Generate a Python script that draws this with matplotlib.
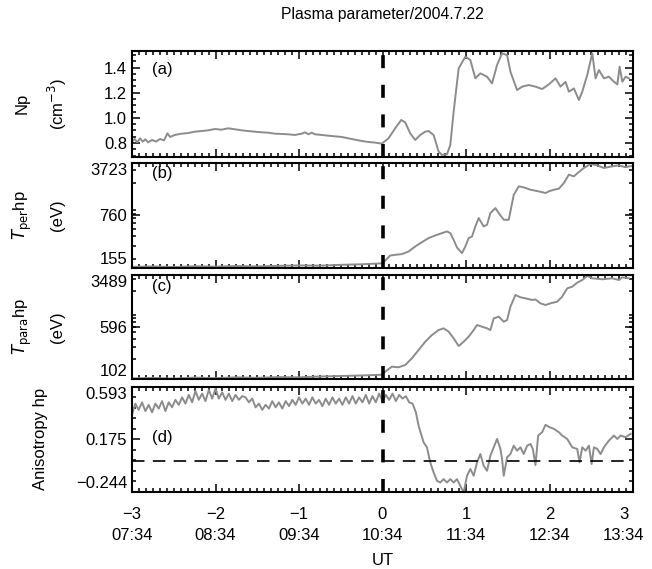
import numpy as np
import matplotlib
matplotlib.use("Agg")
import matplotlib.pyplot as plt
from matplotlib.transforms import ScaledTranslation
from matplotlib.ticker import (FixedLocator, MultipleLocator, AutoMinorLocator,
                               LogLocator, NullFormatter)

plt.rcParams['font.family'] = ['Liberation Sans', 'DejaVu Sans']

# ---------------- data ----------------
title = "Plasma parameter/2004.7.22"
xticks = [-3, -2, -1, 0, 1, 2, 3]
xticklabels = ["\u22123\n07:34", "\u22122\n08:34", "\u22121\n09:34", "0\n10:34",
               "1\n11:34", "2\n12:34", "3\n13:34"]

# (a) proton density
t_np = [-3.0, -2.968, -2.936, -2.904, -2.872, -2.84, -2.808, -2.76, -2.712, -2.664,
        -2.616, -2.576, -2.544, -2.488, -2.408, -2.328, -2.248, -2.168, -2.088, -2.008,
        -1.928, -1.848, -1.768, -1.688, -1.608, -1.528, -1.448, -1.368, -1.288, -1.208,
        -1.128, -1.048, -0.968, -0.928, -0.888, -0.848, -0.808, -0.728, -0.648, -0.568,
        -0.488, -0.408, -0.328, -0.248, -0.168, -0.088, -0.008,
        0.072, 0.152, 0.224, 0.272, 0.332, 0.392, 0.452, 0.512, 0.552, 0.612,
        0.672, 0.712, 0.772, 0.812, 0.852, 0.912, 0.992, 1.052, 1.112, 1.172,
        1.252, 1.312, 1.372, 1.432, 1.492, 1.532, 1.612, 1.672, 1.752, 1.832,
        1.912, 1.992, 2.072, 2.132, 2.192, 2.232, 2.292, 2.352, 2.392, 2.452,
        2.512, 2.552, 2.592, 2.652, 2.712, 2.772, 2.812, 2.840, 2.872, 2.912, 2.952]
v_np = [0.811, 0.832, 0.805, 0.837, 0.811, 0.829, 0.805, 0.824, 0.811, 0.832,
        0.821, 0.877, 0.848, 0.864, 0.874, 0.879, 0.890, 0.895, 0.901, 0.911,
        0.906, 0.917, 0.909, 0.901, 0.895, 0.890, 0.885, 0.882, 0.874, 0.872,
        0.869, 0.864, 0.874, 0.885, 0.869, 0.882, 0.869, 0.864, 0.858, 0.853,
        0.848, 0.837, 0.826, 0.816, 0.808, 0.803, 0.795,
        0.837, 0.917, 0.983, 0.964, 0.877, 0.824, 0.864, 0.890, 0.895, 0.864,
        0.731, 0.705, 0.710, 0.784, 1.049, 1.393, 1.486, 1.460, 1.314, 1.354,
        1.327, 1.274, 1.420, 1.513, 1.499, 1.367, 1.221, 1.248, 1.261, 1.248,
        1.229, 1.266, 1.314, 1.248, 1.287, 1.208, 1.234, 1.142, 1.208, 1.340,
        1.513, 1.314, 1.380, 1.314, 1.327, 1.287, 1.266, 1.407, 1.287, 1.327, 1.314]

# (b) perpendicular temperature (eV)
t_tper = [-3.0, -2.75, -2.5, -2.25, -2.0, -1.75, -1.5, -1.25, -1.0, -0.75, -0.5, -0.25, 0.0,
          0.092, 0.152, 0.232, 0.312, 0.392, 0.472, 0.552, 0.632, 0.712, 0.772, 0.812,
          0.852, 0.892, 0.952, 0.992, 1.032, 1.072, 1.112, 1.152, 1.212, 1.252, 1.292,
          1.352, 1.392, 1.452, 1.512, 1.572, 1.632, 1.692, 1.772, 1.872, 1.952, 1.992,
          2.052, 2.112, 2.172, 2.232, 2.292, 2.352, 2.412, 2.492, 2.572, 2.652, 2.752,
          2.832, 2.912, 2.952, 3.0]
v_tper = [158, 160, 157, 161, 159, 162, 160, 163, 165, 164, 168, 171, 176,
          223, 228, 233, 252, 294, 335, 379, 411, 441, 464, 441,
          360, 285, 240, 294, 379, 398, 540, 697, 540, 569, 811,
          945, 811, 662, 662, 1418, 1829, 1773, 1651, 1570, 1493, 1570,
          1651, 1703, 2023, 2610, 2480, 2833, 3200, 3612, 3470, 3200, 3365,
          3470, 3267, 3365, 3400]

# (c) parallel temperature (eV)
t_tpar = [-3.0, -2.75, -2.5, -2.25, -2.0, -1.75, -1.5, -1.25, -1.0, -0.75, -0.5, -0.25, 0.0,
          0.032, 0.112, 0.192, 0.272, 0.352, 0.432, 0.512, 0.592, 0.672, 0.732, 0.792,
          0.852, 0.912, 0.972, 1.032, 1.092, 1.132, 1.192, 1.252, 1.292, 1.332, 1.392,
          1.452, 1.492, 1.532, 1.592, 1.652, 1.712, 1.792, 1.832, 1.892, 1.952, 2.012,
          2.092, 2.152, 2.212, 2.272, 2.332, 2.392, 2.452, 2.512, 2.632, 2.752, 2.832,
          2.872, 2.952]
v_tpar = [104, 106, 103, 107, 105, 108, 106, 109, 108, 111, 113, 115, 118,
          131, 155, 152, 164, 206, 273, 362, 454, 538, 570, 509,
          406, 313, 362, 430, 538, 638, 603, 570, 538, 800, 847,
          714, 756, 1190, 1770, 1635, 1580, 1493, 1520, 1333, 1260, 1333,
          1410, 1672, 2218, 2346, 2690, 2944, 3374, 3120, 3015, 3120, 2944,
          3220, 3120]

# (d) anisotropy
t_an = [-3.00, -2.96, -2.92, -2.88, -2.84, -2.80, -2.76, -2.72, -2.68, -2.64,
        -2.60, -2.56, -2.52, -2.48, -2.44, -2.40, -2.36, -2.32, -2.28, -2.24,
        -2.20, -2.16, -2.12, -2.08, -2.04, -2.00, -1.96, -1.92, -1.88, -1.84,
        -1.80, -1.76, -1.72, -1.68, -1.64, -1.60, -1.56, -1.52, -1.48, -1.44,
        -1.40, -1.36, -1.32, -1.28, -1.24, -1.20, -1.16, -1.12, -1.08, -1.04,
        -1.00, -0.96, -0.92, -0.88, -0.84, -0.80, -0.76, -0.72, -0.68, -0.64,
        -0.60, -0.56, -0.52, -0.48, -0.44, -0.40, -0.36, -0.32, -0.28, -0.24,
        -0.20, -0.16, -0.12, -0.08, -0.04, 0.00, 0.04, 0.08, 0.12, 0.16,
        0.20, 0.24, 0.28, 0.32, 0.36, 0.40,
        0.432, 0.492, 0.532, 0.572, 0.612, 0.652, 0.692, 0.732, 0.772, 0.812,
        0.852, 0.892, 0.932, 0.972, 1.012, 1.052, 1.092, 1.132, 1.172, 1.212,
        1.252, 1.292, 1.332, 1.372, 1.412, 1.432, 1.452, 1.492, 1.532, 1.572,
        1.612, 1.652, 1.692, 1.732, 1.772, 1.800, 1.832, 1.864, 1.912, 1.952,
        2.000, 2.052, 2.112, 2.152, 2.212, 2.272, 2.332, 2.360, 2.392, 2.432,
        2.472, 2.504, 2.532, 2.572, 2.612, 2.652, 2.712, 2.772, 2.812, 2.852,
        2.912, 2.972]
v_an = [0.37, 0.46, 0.41, 0.47, 0.40, 0.45, 0.39, 0.46, 0.42, 0.48,
        0.40, 0.47, 0.43, 0.49, 0.45, 0.51, 0.46, 0.53, 0.47, 0.56,
        0.49, 0.54, 0.48, 0.57, 0.50, 0.58, 0.50, 0.55, 0.49, 0.54,
        0.48, 0.53, 0.49, 0.52, 0.51, 0.47, 0.50, 0.43, 0.46, 0.41,
        0.45, 0.42, 0.48, 0.43, 0.47, 0.42, 0.48, 0.44, 0.49, 0.45,
        0.51, 0.46, 0.50, 0.45, 0.51, 0.46, 0.49, 0.44, 0.50, 0.45,
        0.51, 0.46, 0.50, 0.45, 0.51, 0.46, 0.52, 0.46, 0.51, 0.47,
        0.53, 0.46, 0.52, 0.47, 0.54, 0.48, 0.53, 0.49, 0.54, 0.48,
        0.53, 0.50, 0.52, 0.47, 0.46, 0.39,
        0.284, 0.150, 0.110, -0.011, -0.091, -0.158, -0.172, -0.145, -0.172, -0.145,
        -0.172, -0.145, -0.198, -0.252, -0.118, -0.064, -0.118, -0.011, 0.056, -0.038,
        -0.078, 0.043, 0.110, 0.177, 0.097, 0.016, -0.118, 0.030, 0.056, 0.123,
        0.083, 0.110, 0.056, 0.123, 0.137, 0.097, -0.032, 0.204, 0.231, 0.290,
        0.271, 0.258, 0.231, 0.204, 0.177, 0.110, 0.097, -0.011, 0.110, 0.083,
        0.123, -0.024, 0.110, 0.097, 0.056, 0.110, 0.164, 0.204, 0.177, 0.204,
        0.191, 0.217]

yt_np = [0.8, 1.0, 1.2, 1.4]
yt_tper = [155, 760, 3723]
yt_tpar = [102, 596, 3489]
yt_an = [-0.244, 0.175, 0.593]
an_ref = 0.0
onset = 0.0

# ---------------- figure ----------------
W, H = 652, 569
fig = plt.figure(figsize=(W / 100, H / 100), dpi=100)
left, width = 132 / W, 501 / W
panels = [(50.7, 156.7), (163.0, 267.5), (275.0, 379.0), (387.0, 491.5)]
axes = []
for top, bot in panels:
    axes.append(fig.add_axes([left, 1 - bot / H, width, (bot - top) / H]))

gray = '#8c8c8c'
fs = 12

for ax in axes:
    ax.set_xlim(-3, 3)
    ax.xaxis.set_major_locator(FixedLocator(xticks))
    ax.xaxis.set_minor_locator(MultipleLocator(1 / 12))
    ax.tick_params(axis='both', which='both', direction='in', top=True, right=True,
                   labelsize=fs, width=1.1)
    ax.tick_params(which='major', length=6)
    ax.tick_params(which='minor', length=3)
    for s in ax.spines.values():
        s.set_linewidth(1.5)
    ax.axvline(onset, color='black', lw=2.6, dashes=(3.6, 4.6), zorder=3)
    if ax is not axes[-1]:
        ax.tick_params(labelbottom=False)

# (a)
ax = axes[0]
ax.plot(t_np, v_np, color=gray, lw=1.4)
ax.set_ylim(0.691, 1.534)
ax.set_yticks(yt_np, [f"{v:.1f}" for v in yt_np])
ax.yaxis.set_minor_locator(MultipleLocator(0.05))
ax.text(0.06, 0.82, "(a)", transform=ax.transAxes, fontsize=fs, ha='center', va='center')
ax.text(-0.2196, 0.5, "Np", transform=ax.transAxes, fontsize=fs, rotation=90,
        ha='center', va='center')
ax.text(-0.1497, 0.5, "(cm$^{-3}$)", transform=ax.transAxes, fontsize=fs, rotation=90,
        ha='center', va='center')
ax.text(0.5, 1 + (50.7 - 15) / 106, title, transform=ax.transAxes, fontsize=11.3,
        ha='center', va='center')

# (b)
ax = axes[1]
ax.plot(t_tper, v_tper, color=gray, lw=1.4)
ax.set_yscale('log')
ax.set_ylim(yt_tper[0], yt_tper[-1])
ax.set_yticks(yt_tper, [str(v) for v in yt_tper])
ax.yaxis.set_minor_locator(LogLocator(base=10, subs=np.arange(2, 10)))
ax.yaxis.set_minor_formatter(NullFormatter())
ax.text(0.06, 0.895, "(b)", transform=ax.transAxes, fontsize=fs, ha='center', va='center')
ax.text(-0.2196, 0.5, "$T_{\\rm per}$hp", transform=ax.transAxes, fontsize=fs,
        rotation=90, ha='center', va='center')
ax.text(-0.1497, 0.5, "(eV)", transform=ax.transAxes, fontsize=fs, rotation=90,
        ha='center', va='center')

# (c)
ax = axes[2]
ax.plot(t_tpar, v_tpar, color=gray, lw=1.4)
ax.set_yscale('log')
ax.set_ylim(yt_tpar[0], yt_tpar[-1])
ax.set_yticks(yt_tpar, [str(v) for v in yt_tpar])
ax.yaxis.set_minor_locator(LogLocator(base=10, subs=np.arange(2, 10)))
ax.yaxis.set_minor_formatter(NullFormatter())
ax.text(0.06, 0.894, "(c)", transform=ax.transAxes, fontsize=fs, ha='center', va='center')
ax.text(-0.2196, 0.5, "$T_{\\rm para}$hp", transform=ax.transAxes, fontsize=fs,
        rotation=90, ha='center', va='center')
ax.text(-0.1497, 0.5, "(eV)", transform=ax.transAxes, fontsize=fs, rotation=90,
        ha='center', va='center')

# (d)
ax = axes[3]
ax.plot(t_an, v_an, color=gray, lw=1.4)
ax.set_ylim(yt_an[0], yt_an[-1])
ax.set_yticks(yt_an, [f"{v:.3f}".replace('-', '\u2212') for v in yt_an])
ax.yaxis.set_minor_locator(AutoMinorLocator(5))
ax.axhline(an_ref, color='black', lw=1.2, dashes=(7.5, 5))
ax.text(0.06, 0.52, "(d)", transform=ax.transAxes, fontsize=fs, ha='center', va='center')
ax.text(-0.1836, 0.5, "Anisotropy hp", transform=ax.transAxes, fontsize=fs,
        rotation=90, ha='center', va='center')
ax.set_xticks(xticks, xticklabels)
ax.tick_params(axis='x', pad=11.5)
for lab in ax.get_xticklabels():
    lab.set_linespacing(1.5)
# last label kept inside the figure, as in the reference
last = ax.xaxis.get_major_ticks()[-1].label1
last.set_transform(last.get_transform() + ScaledTranslation(-9 / 100, 0, fig.dpi_scale_trans))
ax.set_xlabel("UT", fontsize=fs, labelpad=7)

# keep extreme labels inside panel
for ax in axes[1:]:
    ticks = ax.yaxis.get_major_ticks()
    ticks[0].label1.set_va('bottom')
    ticks[-1].label1.set_va('top')

fig.savefig("out.png", dpi=100)
